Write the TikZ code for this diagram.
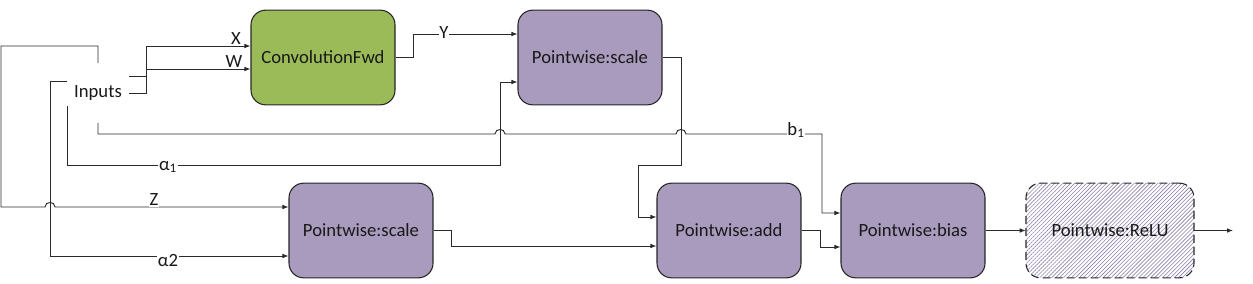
\documentclass[tikz,border=0pt]{standalone}
\usepackage{fontspec}
\setmainfont{Carlito}
\usetikzlibrary{arrows.meta, calc, patterns.meta}
\definecolor{convgreen}{HTML}{9BBB59}
\definecolor{opviolet}{HTML}{A99BBD}
\definecolor{hatchviolet}{HTML}{8C7FAE}
\definecolor{wire}{HTML}{2A2A2A}

\begin{document}
\begin{tikzpicture}[
    x=0.75pt, y=-0.75pt,
    every node/.style={font=\fontsize{14}{16}\selectfont, text=black!90},
    op/.style={draw=black!85, line width=0.8pt, rounded corners=11pt,
      minimum width=108pt, minimum height=71pt, align=center},
    lbl/.style={fill=white, inner sep=0.6pt},
    arr/.style={-{Latex[length=4.5pt, width=3.5pt]}, draw=wire, line width=0.7pt},
    wire/.style={draw=wire, line width=0.7pt}
]
    \useasboundingbox (0,0) rectangle (1253,284);

    % inputs and operation boxes
    \node[minimum width=45.75pt, minimum height=44.25pt, inner sep=0pt] (in) at (98,93) {Inputs};
    \node[op, fill=convgreen] (cv) at (323,57.5) {ConvolutionFwd};
    \node[op, fill=opviolet] (sc1) at (590,57.5) {Pointwise:scale};
    \node[op, fill=opviolet] (sc2) at (361,230.5) {Pointwise:scale};
    \node[op, fill=opviolet] (add) at (729,230.5) {Pointwise:add};
    \node[op, fill=opviolet] (bs) at (913,230.5) {Pointwise:bias};
    \node[op, minimum width=126pt, dash pattern=on 6pt off 3pt,
      pattern={Lines[angle=45, distance=2.1pt, line width=0.45pt]},
      pattern color=hatchviolet] (rl) at (1110,230.5) {Pointwise:ReLU};
    \coordinate (out) at (1233,230.5);

    % inputs to convolution
    \draw[arr] ($(in.east)+(0,-17)$) -| (146,46) -- ($(cv.west)+(0,-11.5)$);
    \draw[arr] (in.east) -| (146,69) -- ($(cv.west)+(0,11.5)$);
    \draw[arr] (cv.east) -| (413,34) -- ($(sc1.west)+(0,-23.5)$);

    % scale inputs
    \draw[arr] ($(in.west)+(0,13)$) |- (500,165) |- ($(sc1.west)+(0,24.5)$);
    \draw[arr] (in.north) |- (1,46) -- (1,207) -- (45,207)
      .. controls (45,201) and (55,201) .. (55,207) -- ($(sc2.west)+(0,-23.5)$);
    \draw[arr] ($(in.west)+(0,-12)$) -| (50,256) -- ($(sc2.west)+(0,25.5)$);

    % bias input
    \draw[arr] (in.south) |- (495,134) .. controls (495,128) and (505,128) .. (505,134)
      -- (676,134) .. controls (676,128) and (686,128) .. (686,134)
      -| (822,200) |- ($(bs.west)+(0,-17.5)$);

    % chain
    \draw[arr] (sc1.east) -| (681,165) -- (638,165) |- ($(add.west)+(0,-13.5)$);
    \draw[arr] (sc2.east) -| (451,246) -- ($(add.west)+(0,15.5)$);
    \draw[arr] (add.east) -| (820,247) -- ($(bs.west)+(0,16.5)$);
    \draw[arr] (bs) -- (rl);
    \draw[arr] (rl.east) -- (out);

    % labels
    \node[lbl] (lx) at (236,39) {X};
    \node[lbl] (lw) at (234,62) {W};
    \node[lbl] (ly) at (444,33) {Y};
    \node[lbl] (lz) at (154,200) {Z};
    \node[lbl] (la1) at (168,167) {α\textsubscript{1}};
    \node[lbl] (la2) at (168,261) {α2};
    \node[lbl] (lb1) at (796,130) {b\textsubscript{1}};
\end{tikzpicture}
\end{document}
